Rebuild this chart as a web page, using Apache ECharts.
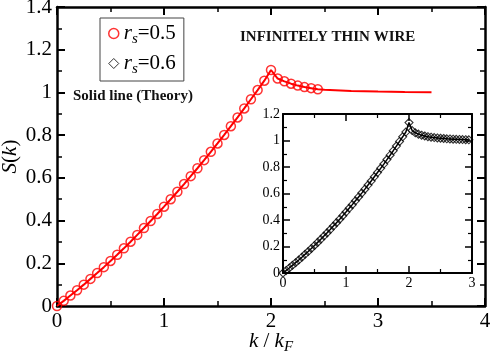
<!DOCTYPE html>
<html>
<head>
<meta charset="utf-8">
<script src="https://cdn.jsdelivr.net/npm/echarts@6/dist/echarts.min.js"></script>
<style>
  html, body { margin: 0; padding: 0; background: #fff; }
  #chart { width: 491px; height: 360px; }
</style>
</head>
<body>
<div id="chart"></div>
<script>
// main panel, r_s = 0.5 (open red circles)
const mainK = [0, 0.0625, 0.125, 0.1875, 0.25, 0.3125, 0.375, 0.4375, 0.5, 0.5625, 0.625, 0.6875,
  0.75, 0.8125, 0.875, 0.9375, 1.0, 1.0625, 1.125, 1.1875, 1.25, 1.3125, 1.375, 1.4375, 1.5,
  1.5625, 1.625, 1.6875, 1.75, 1.8125, 1.875, 1.9375, 2.0, 2.0625, 2.125, 2.1875, 2.25, 2.3125,
  2.375, 2.4375];
const mainS = [0, 0.024, 0.049, 0.074, 0.100, 0.127, 0.154, 0.182, 0.211, 0.240, 0.270, 0.301,
  0.333, 0.365, 0.398, 0.431, 0.465, 0.500, 0.535, 0.571, 0.608, 0.645, 0.683, 0.722, 0.761,
  0.801, 0.842, 0.883, 0.925, 0.968, 1.011, 1.055, 1.105, 1.065, 1.052, 1.041, 1.032, 1.025,
  1.020, 1.015];

// theory line continues past the last circle
const tailK = [2.5, 2.75, 3.0, 3.25, 3.5];
const tailS = [1.012, 1.007, 1.004, 1.002, 1.001];

// inset, r_s = 0.6 (open diamonds)
const insetK = [0, 0.05, 0.1, 0.15, 0.2, 0.25, 0.3, 0.35, 0.4, 0.45, 0.5, 0.55, 0.6, 0.65, 0.7,
  0.75, 0.8, 0.85, 0.9, 0.95, 1.0, 1.05, 1.1, 1.15, 1.2, 1.25, 1.3, 1.35, 1.4, 1.45, 1.5, 1.55,
  1.6, 1.65, 1.7, 1.75, 1.8, 1.85, 1.9, 1.95, 2.0, 2.05, 2.1, 2.15, 2.2, 2.25, 2.3, 2.35, 2.4,
  2.45, 2.5, 2.55, 2.6, 2.65, 2.7, 2.75, 2.8, 2.85, 2.9, 2.95];
const insetS = [0, 0.019, 0.038, 0.058, 0.078, 0.098, 0.119, 0.141, 0.162, 0.185, 0.208, 0.231,
  0.254, 0.279, 0.303, 0.328, 0.354, 0.380, 0.406, 0.433, 0.460, 0.488, 0.516, 0.545, 0.574,
  0.603, 0.633, 0.664, 0.694, 0.726, 0.758, 0.790, 0.822, 0.856, 0.889, 0.923, 0.958, 0.993,
  1.028, 1.064, 1.135, 1.075, 1.058, 1.048, 1.040, 1.034, 1.029, 1.025, 1.022, 1.019, 1.017,
  1.015, 1.013, 1.012, 1.010, 1.009, 1.008, 1.007, 1.006, 1.005];

const mainXTicks = { min: 0, max: 4, interval: 1 };
const mainYTicks = { min: 0, max: 1.4, interval: 0.2 };
const insetXTicks = { min: 0, max: 3, interval: 1 };
const insetYTicks = { min: 0, max: 1.2, interval: 0.2 };

const SERIF = 'Liberation Serif';

const pairs = (xs, ys) => xs.map((x, i) => [x, ys[i]]);

function frameAxis(pos, grid, ticks, opts) {
  const big = grid === 0;
  return Object.assign({
    type: 'value',
    gridIndex: grid,
    position: pos,
    min: ticks.min,
    max: ticks.max,
    interval: ticks.interval,
    splitLine: { show: false },
    axisLine: { show: true, onZero: false, lineStyle: { color: '#000', width: big ? 2.5 : 2 } },
    axisTick: { show: true, inside: true, length: big ? 8 : 7, lineStyle: { color: '#000', width: big ? 2 : 1.5 } },
    minorTick: { show: true, splitNumber: 2, length: big ? 5 : 4, lineStyle: { color: '#000', width: big ? 1.5 : 1.2 } },
    axisLabel: { show: false }
  }, opts || {});
}

const mainLabel = { show: true, fontFamily: SERIF, fontSize: 21, color: '#000', margin: 5 };
const insetLabel = { show: true, fontFamily: SERIF, fontSize: 14, color: '#000', margin: 3 };

const chart = echarts.init(document.getElementById('chart'), null, { renderer: 'canvas' });

chart.setOption({
  animation: false,
  backgroundColor: '#fff',
  textStyle: { fontFamily: SERIF },
  grid: [
    { left: 57, top: 7, width: 428, height: 299, containLabel: false, outerBoundsMode: 'none' },
    { left: 283, top: 114, width: 189, height: 159, containLabel: false, outerBoundsMode: 'none',
      show: true, backgroundColor: '#fff', borderWidth: 0 }
  ],
  xAxis: [
    frameAxis('bottom', 0, mainXTicks, {
      axisLabel: mainLabel,
      name: '{i|k} / {i|k}{sub|F}',
      nameLocation: 'middle',
      nameGap: 22,
      nameMoveOverlap: false,
      nameTextStyle: {
        fontFamily: SERIF, fontSize: 21, color: '#000',
        rich: {
          i: { fontFamily: SERIF, fontSize: 21, fontStyle: 'italic', color: '#000' },
          sub: { fontFamily: SERIF, fontSize: 15, fontStyle: 'italic', color: '#000', padding: [12, 0, 0, 0] }
        }
      }
    }),
    frameAxis('top', 0, mainXTicks),
    frameAxis('bottom', 1, insetXTicks, { axisLabel: insetLabel }),
    frameAxis('top', 1, insetXTicks)
  ],
  yAxis: [
    frameAxis('left', 0, mainYTicks, {
      axisLabel: mainLabel,
      name: '{i|S}({i|k})',
      nameLocation: 'middle',
      nameGap: 36,
      nameMoveOverlap: false,
      nameTextStyle: {
        fontFamily: SERIF, fontSize: 21, color: '#000',
        rich: {
          i: { fontFamily: SERIF, fontSize: 21, fontStyle: 'italic', color: '#000' }
        }
      }
    }),
    frameAxis('right', 0, mainYTicks),
    frameAxis('left', 1, insetYTicks, { axisLabel: insetLabel }),
    frameAxis('right', 1, insetYTicks)
  ],
  legend: {
    left: 100,
    top: 18,
    orient: 'vertical',
    padding: [5, 8, 4, 8],
    itemGap: 6,
    itemWidth: 10,
    itemHeight: 10,
    borderColor: '#444',
    borderWidth: 1,
    backgroundColor: '#fff',
    selectedMode: false,
    data: [
      { name: 'rs05', icon: 'circle', itemStyle: { color: '#fff', borderColor: '#f00', borderWidth: 1.5 } },
      { name: 'rs06', icon: 'diamond', itemStyle: { color: '#fff', borderColor: '#000', borderWidth: 1 } }
    ],
    formatter: name => '{r|r}{s|s}{v|=' + (name === 'rs05' ? '0.5' : '0.6') + '}',
    textStyle: {
      fontFamily: SERIF, fontSize: 21, color: '#000',
      rich: {
        r: { fontFamily: SERIF, fontSize: 21, fontStyle: 'italic', color: '#000' },
        s: { fontFamily: SERIF, fontSize: 15, fontStyle: 'italic', color: '#000', padding: [12, 0, 0, 0] },
        v: { fontFamily: SERIF, fontSize: 21, color: '#000' }
      }
    }
  },
  graphic: [
    {
      type: 'text', left: 240, top: 30,
      style: { text: 'INFINITELY THIN WIRE', font: 'bold 15px Liberation Serif', fill: '#111' }
    },
    {
      type: 'text', left: 73, top: 89,
      style: { text: 'Solid line (Theory)', font: 'bold 15px Liberation Serif', fill: '#111' }
    }
  ],
  series: [
    {
      name: 'theory05', type: 'line', xAxisIndex: 0, yAxisIndex: 0,
      data: pairs(mainK.concat(tailK), mainS.concat(tailS)),
      showSymbol: false, symbol: 'none',
      lineStyle: { color: '#f00', width: 2 }, z: 2
    },
    {
      name: 'rs05', type: 'scatter', xAxisIndex: 0, yAxisIndex: 0,
      data: pairs(mainK, mainS),
      symbol: 'circle', symbolSize: 9,
      itemStyle: { color: 'rgba(0,0,0,0)', borderColor: '#f00', borderWidth: 1.5 }, z: 3
    },
    {
      name: 'theory06', type: 'line', xAxisIndex: 2, yAxisIndex: 2,
      data: pairs(insetK, insetS),
      showSymbol: false, symbol: 'none',
      lineStyle: { color: '#000', width: 1.5 }, z: 4
    },
    {
      name: 'rs06', type: 'scatter', xAxisIndex: 2, yAxisIndex: 2,
      data: pairs(insetK, insetS),
      symbol: 'diamond', symbolSize: 8,
      itemStyle: { color: 'rgba(0,0,0,0)', borderColor: '#000', borderWidth: 1.1 }, z: 5
    }
  ]
});
</script>
</body>
</html>
